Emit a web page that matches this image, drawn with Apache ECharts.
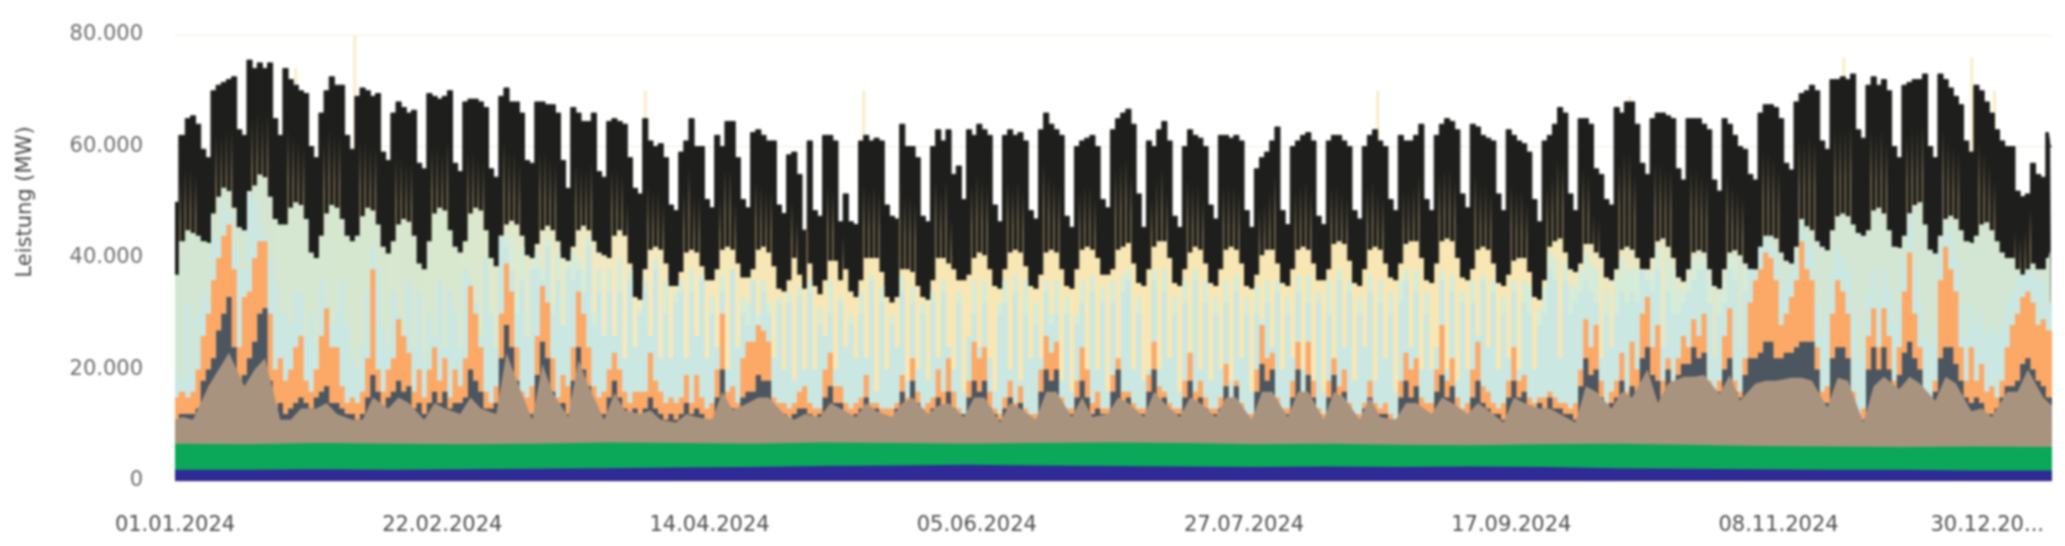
<!DOCTYPE html>
<html><head><meta charset="utf-8">
<style>html,body{margin:0;padding:0;background:#fff}#chart{width:2065px;height:546px;filter:blur(1.1px)}</style>
<script src="https://cdn.jsdelivr.net/npm/echarts@6/dist/echarts.min.js"></script></head><body><div id="chart"></div>
<script>
const tickDays=[0,52,104,156,208,260,312,352.6];
const tickLabels=['01.01.2024','22.02.2024','14.04.2024','05.06.2024','27.07.2024','17.09.2024','08.11.2024','30.12.20...'];
// one value per day, Monday to Sunday
const totalTop=[
50,62,65,65.5,64,59.5,58, 70,71,71.5,72,72.5,63,62, 75.5,74,75,74,75,65,62, 74,72,71,70,69.5,60,58,
66,70,72.5,71,71,62,59.5, 69,70.5,70,69,69.5,59,57.5, 66,68,67,66,66.5,57,56, 69.5,69,68.5,69,70,57,55.5,
68,68.5,68.5,68,67,56,54.5, 69,70.5,68,68,66,57.5,57, 68,68,67.5,67.5,66,57.5,52.5, 67,66,64.5,64.5,66,55.5,54.5,
64.5,65,64.5,64,58,52.5,51.5, 65,61,60,60.5,58,49.5,48.5, 59,61,65,60,60,50.5,49, 62,60,64.5,64.5,58,50.5,49,
62.5,63,62,61,61,49.5,48, 58.5,59,55,45,61,48.5,47.5, 62,62,61,46.5,51.5,46.5,46, 61,62,61,61.5,61,49.5,47.5,
47,64,60,60,58,47.5,46.5, 60,63,61,63,55,56.5,50.5, 63,62,64,63,62,49.5,46.5, 62,63,62,62.5,61,48.5,47,
63,66,64,63,62,47.5,45.5, 60,61,61.5,62,60,50.5,49, 63,65,66,66.7,64,51.5,45.5, 61,60,63,64.5,61,47.5,45.5,
60,63,62,61.5,60,49.5,47, 62,62,61.5,62,61,48.5,45.5, 56,58,59,61,63.5,48.5,46, 60,61,62,62.5,61,47.5,46,
61,62,62,61,60,48.5,47, 60,62,63,61,60,50.5,48.5, 62,61,61,62,64,50.5,48.5, 62,64,65,64.5,63,51.5,49,
64,63.5,62,61.5,61,51.5,48.5, 63,62,61,60.5,59,50.5,46.5, 61,62,64,67,66,51.5,48.5, 65,65,64,56,55,50.5,49.5,
67,66,68,68,64,57,55, 65,66,66,65.5,65,56,54, 65,65,65,64,63,54,52, 65,64,62,60,59.5,55,54,
66,67.5,67.5,67,65,57,55.8, 68,69.5,70,71,70,61,59.5, 72,72,72.5,72,73,63,61.5, 71,72.5,71,72,70,60,58,
71,71.5,72,72,73,60,58, 73,72,70.5,69,67.5,61,59, 71,70,68,66,63,61,60, 60,52,51,51.5,57,55,54.5, 62.5,60];
const darkBottom=[
37,43,45,44.5,44,43,42.7, 48,51,52.6,52,49,45.5,45, 50,53,55,54.5,51,47,46, 46,49,50,49.5,47,41,40,
44,48,49.5,49,47,44,43, 44,47.5,49,48.5,46,42,40.8, 43,46,47,46.5,44,39,38, 43,48,49,48.5,45,42,41,
43,48,49,48.5,45,40,38.5, 44,46,46.7,46,44,40.5,40, 42.5,45,45.8,45,43,40,39.5, 42,45,45.8,45,43,41,40.5,
40,44,45,44,39,33,32.5, 38,41.5,42,41.5,39,35,35, 37.5,41,41.5,41,38.5,36,36, 38,41.5,42,41.5,39,36.5,36.5,
38,41.5,42,41,38.5,34.5,34, 36,40,37,34.5,39,35,33.5, 36,39.5,39.5,36,38,34,33, 36,40,40,40,37.5,33,32,
33,38,38,37.5,35,33,32.5, 36,40,40,39,38,36,36, 37,40,41,40.5,38,35,34.5, 38,41,41.5,41,38.5,35,34.5,
37,41,41.5,41,38,35,34.5, 38,41.5,42,41.5,40,37,37, 38,41.5,42,42.7,39,35.5,35, 38,42,43,43,40,35.5,35,
38,41,42,41.5,39,35.5,35, 38,41.5,42,41.5,39,35,34.5, 37,40.5,41.5,41.5,39,35.5,35, 38,41.5,42,41.5,39,36,36,
38,42.5,43,42.5,39.5,35.5,35, 38,41.5,42,41.5,39,36.5,36, 39,42.5,43,43,40,36,35.5, 39,43,43.5,43,40,36.5,36,
38,41.5,42,41.5,39,35.5,35, 37,39.5,40,40,37.5,33,32.5, 36,42,43,43.5,41,38,37.5, 39,42.5,42.5,41,40,36.5,36,
38,41.5,42,41.5,40,38,38, 40,43,43.5,42,40,36.5,35.8, 38,41,41.4,41,38,35,34.5, 38,41,41.4,40.5,39,38,37.6,
40,43.5,44,43.5,41,39.5,39, 42,45,45.7,45,43,42,41.4, 45,47.5,48,47.5,46,44.5,44, 45,48.5,49,48,45,42,41.8,
44,48,49.5,50,46,41.5,40.8, 44,47,47.6,47,45,43,42.7, 44,46,46.4,45,43,41,40, 40,38,37,37.5,39,38,38, 40,41.4];
// four thin light lines per week inside the dark band
const sliverTop=[
54,56,56,55, 62,62,63,63, 65,66,65,66, 63,62,61,60, 61,63,62,62, 61,61,60,60, 58,58,57,57, 60,60,59,61, 59,59,58,57,
61,59,59,57, 59,59,58,57, 57,56,56,57, 56,56,55,50, 53,52,52,50, 52,56,51,51, 51,56,56,50, 54,53,52,52, 50,47,38,52,
53,52,38,44, 53,52,53,52, 55,51,51,50, 54,52,54,47, 53,55,54,53, 54,53,54,52, 57,55,54,53, 52,53,53,51, 56,57,58,55,
51,54,56,52, 54,53,53,51, 53,53,53,52, 49,50,52,55, 52,53,54,52, 53,53,52,51, 53,54,52,51, 52,52,53,55, 55,56,56,54,
55,53,53,52, 53,52,52,50, 53,55,58,57, 56,55,48,47, 57,59,59,55, 57,57,56,56, 56,56,55,54, 55,53,52,51, 59,59,58,56,
61,61,62,61, 63,63,63,64, 63,62,63,61, 62,63,63,64, 63,61,60,59, 61,59,57,54, 45,44,45,49];
// pale green streaks, daily from the tenth to the forty-fourth week
const paleStreak=[
43,44,44,34,42,26,39, 41,38,44,32,41,28,39, 41,40,38,44,30,38,26, 38,26,40,22,38,24,31, 36,26,40,22,36,22,34,
36,22,38,26,37,22,33, 22,37,20,38,22,33,32, 36,30,36,32,20,33,20, 34,18,35,20,36,20,31, 26,36,20,33,24,30,22,
34,22,37,16,35,20,30, 24,37,18,35,20,32,18, 34,22,36,24,20,34,16, 26,36,24,36,22,16,32, 36,20,37,18,36,22,32,
22,36,30,36,18,33,16, 30,36,18,37,20,35,16, 36,20,37,38,20,33,18, 20,38,20,38,22,33,16, 36,22,38,20,36,18,33,
20,36,18,37,22,33,16, 35,29,36,24,36,20,33, 22,37,20,37,18,34,16, 36,20,38,24,36,18,33, 24,37,18,36,22,34,16,
36,38,24,38,20,34,20, 24,38,20,37,18,34,20, 36,26,37,24,36,20,33, 22,36,20,36,35,20,31, 35,41,40,22,39,35,35,
38,41,39,38,22,34,24, 37,40,38,38,38,37,37, 38,42,24,40,38,34,34, 36,40,40,40,36,22,33, 36,40,40,24,38,37,37];
const blueLevel=[
20,18,32,20,30,34,32, 44,44,50,48,42,38,38, 52,50,46,44,40,36,30, 30,28,34,34,26,30,24, 36,32,28,30,36,28,22,
20,24,34,42,38,28,24, 34,30,26,36,24,34,22, 30,26,36,24,34,30,24, 38,36,32,26,40,30,24, 44,42,38,30,36,26,38,
38,36,42,30,36,28,38, 36,38,34,42,28,34,26, 34,26,34,22,36,24,30, 34,26,38,22,30,22,32, 34,22,34,26,36,22,30,
24,34,20,38,24,30,28, 36,28,34,30,22,32,20, 32,18,33,20,34,20,28, 26,30,20,32,24,28,22, 30,22,36,16,32,20,28,
24,34,18,32,20,30,18, 32,22,34,24,20,32,16, 26,30,24,32,22,16,30, 32,20,34,18,30,22,28, 22,34,28,30,18,30,16,
28,32,18,34,20,32,16, 32,20,34,36,20,30,18, 20,36,20,34,22,30,16, 32,22,36,20,32,18,30, 20,32,18,34,22,30,16,
30,28,32,24,34,20,30, 22,34,20,32,18,32,16, 30,20,36,24,34,18,30, 24,34,18,32,22,30,16, 32,36,24,34,20,30,20,
24,36,20,34,18,32,20, 32,26,36,24,34,20,30, 22,34,20,32,30,20,28, 30,38,36,22,36,30,32, 34,36,34,32,22,30,24,
30,34,32,34,32,38,36, 34,38,24,34,30,30,32, 34,36,38,38,32,22,30, 32,38,36,24,34,38,38, 42,44,42,40,34,36,37,
40,47,44,42,32,26,30, 38,42,40,38,30,22,24, 34,38,32,38,34,28,32, 40,48,38,32,26,24,28, 42,46,44,40,32,26,32,
28,30,26,28,26,28,32, 34,36,37,38,38,36,36, 32,32];
const orangeLevel=[
15,16,15,16,20,26,30, 36,40,44,46,38,24,33, 34,40,43,43,30,20,22, 18,20,24,26,18,16,20, 26,31,24,24,17,14,15,
14,16,22,38,20,16,20, 22,29,26,23,16,20,15, 20,24,18,22,15,20,17, 22,35,30,24,16,14,17, 30,39,34,24,16,15,17,
26,35,32,22,15,19,17, 24,34,30,24,17,15,16, 20,23,20,16,14,16,16, 16,23,18,16,14,15,14, 15,19,14,19,15,13,14,
20,30,16,17,14,22,25, 25,28,27,25,15,14,14, 13,14,16,17,14,13,13, 20,23,17,17,14,13,14, 15,19,14,14,13,13,13,
14,19,15,22,16,13,14, 15,20,16,22,16,13,12, 18,25,22,24,16,13,12, 15,18,14,17,13,12,12, 20,26,23,25,15,13,13,
18,24,20,14,16,13,13, 19,22,16,16,14,13,13, 19,25,17,16,14,13,13, 18,23,16,18,15,13,13, 15,21,15,18,14,12,12,
20,28,22,23,15,13,13, 18,25,16,25,18,13,12, 18,22,17,20,14,12,12, 14,18,14,13,14,12,11, 18,23,20,22,15,14,14,
20,28,18,22,15,13,14, 20,25,17,16,14,13,14, 18,24,18,19,15,14,15, 15,16,15,14,14,13,14, 20,29,24,28,18,14,16,
18,23,16,25,20,30,33, 24,28,18,22,18,22,26, 24,29,26,30,18,14,18, 26,31,18,16,22,32,36, 38,41,40,36,28,30,33,
36,43,38,36,24,16,17, 30,36,34,30,16,12,13, 26,31,24,31,26,18,24, 34,41,30,24,16,15,18, 36,42,38,34,24,18,24,
18,21,16,17,15,18,24, 28,30,33,34,32,28,29, 27,27];
const greyLevel=[
11,12,12,12,13,18,20, 22,27,30,33,24,18,19, 22,25,30,31,18,13,14, 12,13,14,15,14,13,15, 16,17,14,14,13,12,12,
11,12,15,19,16,13,15, 16,18,16,17,13,14,12, 14,16,14,16,13,14,14, 15,20,18,16,13,13,14, 22,28,24,18,13,12,12,
19,25,22,16,13,14,12, 18,24,20,17,13,12,12, 15,18,15,13,12,13,12, 13,15,13,12,11,12,11, 12,14,12,13,12,11,11,
15,20,13,13,12,15,16, 16,19,18,18,13,12,12, 11,12,13,13,12,11,12, 15,17,14,14,12,11,12, 13,15,12,13,12,11,11,
13,16,13,18,14,12,12, 13,15,13,16,13,12,12, 15,18,16,18,13,12,11, 13,15,13,14,12,11,11, 16,20,18,20,13,12,12,
15,18,15,12,13,12,12, 16,20,13,15,12,12,12, 16,20,14,15,12,12,12, 15,18,13,15,13,12,12, 13,17,13,17,12,11,11,
16,21,18,20,13,12,12, 15,20,14,19,15,12,11, 15,19,14,16,12,11,11, 13,15,12,12,12,11,11, 15,18,15,17,13,12,12,
16,19,15,17,13,12,12, 15,18,14,13,12,12,11, 15,18,15,16,13,13,14, 13,15,13,13,12,12,11, 17,22,19,20,15,13,14,
15,18,14,17,16,22,24, 19,18,15,20,17,19,21, 21,24,22,23,16,14,16, 20,22,16,15,19,22,22, 23,25,25,22,22,23,23,
24,25,25,25,20,14,14, 22,24,24,22,14,11,11, 20,24,20,24,20,16,19, 23,25,22,20,15,14,16, 22,24,24,21,18,15,14,
15,14,12,12,13,15,17, 17,18,21,22,20,18,17, 15,15];
// first value, then three per week (Tue, Thu, Sun), then last value
const brownLevel=[11,
11.5,11,17, 20,23,17, 20,22,11, 11,13,13, 14,12,11, 11,15,13, 15,14,11, 14,13,12, 15,13,12, 23,18,11,
21,15.8,11.5, 21.7,17,11, 15.8,12.7,12, 12.7,11,10.5, 12,11.5,11, 16,12.7,14, 15,15,12, 11,12,11.5, 14,13,11.5, 14,12.5,11.5,
14,15,12, 13.5,14,11.5, 15,15,10.5, 14,13,11, 16,16,11.5, 15,11.5,12, 15,14,11.5, 16,14,11.5, 15,14,11.5, 15,15,11,
16,16,11.5, 16,16,11, 16,15,11, 15,11.5,11, 14,14,12, 15,14,12, 14,12.7,10.5, 15,14,13, 13,12,10.5, 17,16,13,
16,15,20, 14,17.5,18.7, 18.7,19,15.6, 19,14.4,17.5, 18,18,18.5, 18.5,18,13.2, 18.5,18,10.5, 17,18.7,16.5, 18.7,17.5,14.4, 18.7,17.5,12.5,
13,11.5,16, 16,20,15, 13.5];
// fortnightly
const greenLevel=[6.7,6.6,6.8,6.7,6.6,6.7,6.9,6.8,6.7,6.9,6.8,6.7,6.8,6.9,6.8,6.6,6.7,6.5,6.4,6.6,6.7,6.5,6.3,6.2,6.1,6.2,6.1];
const navyLevel=[2.0,2.0,2.1,2.0,2.1,2.2,2.3,2.4,2.5,2.7,2.8,2.9,2.8,2.7,2.6,2.5,2.6,2.5,2.6,2.5,2.3,2.2,2.1,2.0,2.0,1.9,1.9];
// faint pale spikes above the dark band: day and height
const spikeDays=[23.5,35,91.5,134,234,283,324.7,349.6,354];
const spikeTops=[74,80,70,70,70,69,76,76,70];

const END=365.2;
const dailyDays=n=>Array.from({length:n},(_,i)=>i===0?0:(i===n-1?END:i+0.5));
const tripleDays=[0];
for(let w=0;w<52;w++){tripleDays.push(w*7+1.5,w*7+3.5,w*7+6.5);}
tripleDays.push(END);
const streakDays=paleStreak.map((_,i)=>63+i+0.5);
const fortDays=greenLevel.map((_,i)=>i===greenLevel.length-1?END:i*14);
const sliverDays=sliverTop.map((_,i)=>Math.floor(i/4)*7+(i%4)+1);
const pairs=(xs,ys)=>ys.map((y,i)=>[xs[i],y*1000]);

const band=(name,xs,ys,color,lw,step)=>({name,type:'line',z:3,data:pairs(xs,ys),showSymbol:false,symbol:'none',silent:true,
  step:step?'middle':false,
  lineStyle:{width:lw||0,color:typeof color==='string'?color:'#000'},areaStyle:{color,opacity:1},itemStyle:{color:typeof color==='string'?color:'#000'},
  animation:false,clip:true});
// thin vertical marks from the axis up to each value; the axes place them
const thin=(name,xs,ys,width,fill)=>({name,type:'custom',z:3,silent:true,animation:false,clip:true,data:pairs(xs,ys),
  encode:{x:0,y:1},
  renderItem:(params,api)=>{const p=api.coord([api.value(0),api.value(1)]),o=api.coord([api.value(0),0]);
    return {type:'rect',shape:{x:p[0]-width/2,y:p[1],width,height:o[1]-p[1]},style:{fill}};}});

const upper=new echarts.graphic.LinearGradient(0,0,1,0,[
 {offset:0,color:'#d3e6d3'},{offset:0.15,color:'#d8e8cf'},{offset:0.24,color:'#f5e9bf'},{offset:0.34,color:'#f8e7b4'},
 {offset:0.72,color:'#f8e7b4'},{offset:0.80,color:'#e6e8c8'},{offset:0.85,color:'#d3e6d3'},{offset:1,color:'#d3e6d3'}]);
const sliverFill=new echarts.graphic.LinearGradient(0,0,0,1,[
 {offset:0,color:'rgba(175,155,110,0)'},{offset:0.14,color:'rgba(175,155,110,0.6)'},{offset:1,color:'rgba(175,155,110,0.85)'}]);

const chart=echarts.init(document.getElementById('chart'),null,{renderer:'canvas'});
chart.setOption({
 animation:false,backgroundColor:'#fff',
 grid:{left:175,right:13,top:35,bottom:65,containLabel:false,outerBoundsMode:'none'},
 xAxis:{type:'value',min:0,max:END,
  axisLine:{show:true,lineStyle:{color:'#e6e2d2',width:1}},axisTick:{show:false},splitLine:{show:false},
  axisLabel:{customValues:tickDays,margin:34,fontFamily:'DejaVu Sans',fontSize:21,color:'#4f4f4f',hideOverlap:false,
   showMinLabel:true,showMaxLabel:true,
   formatter:v=>tickLabels[tickDays.indexOf(v)]||''}},
 yAxis:{type:'value',min:0,max:80000,interval:20000,name:'Leistung (MW)',nameLocation:'middle',nameRotate:90,nameGap:139,
  nameTextStyle:{fontFamily:'DejaVu Sans',fontSize:21,color:'#4a4a4a',padding:[0,0,0,112]},
  axisLine:{show:false},axisTick:{show:false},splitLine:{lineStyle:{color:'#f1eee2',width:1}},
  axisLabel:{margin:32,fontFamily:'DejaVu Sans',fontSize:21,color:'#6e6e6e',formatter:v=>String(v).replace(/\B(?=(\d{3})+$)/g,'.')}},
 series:[
  Object.assign(thin('Spitzen',spikeDays,spikeTops,3,'#f8edc4'),{z:2}),
  band('Gesamt',dailyDays(totalTop.length),totalTop,'#1e1e1c',1,true),
  thin('Linien',sliverDays,sliverTop,1.6,sliverFill),
  band('Oberes Band',dailyDays(darkBottom.length),darkBottom,upper,0,true),
  band('Hellgrün',streakDays,paleStreak,'#d6ecd8',0,true),
  band('Hellblau',dailyDays(blueLevel.length),blueLevel,'#cbe7e2',0,true),
  band('Orange',dailyDays(orangeLevel.length),orangeLevel,'#fca866',0,true),
  band('Grau',dailyDays(greyLevel.length),greyLevel,'#4c5660',0,true),
  band('Braun',tripleDays,brownLevel,'#a8937f'),
  band('Grün',fortDays,greenLevel,'#0aa858'),
  band('Blau',fortDays,navyLevel,'#2f2a96')
 ]
});
</script></body></html>
